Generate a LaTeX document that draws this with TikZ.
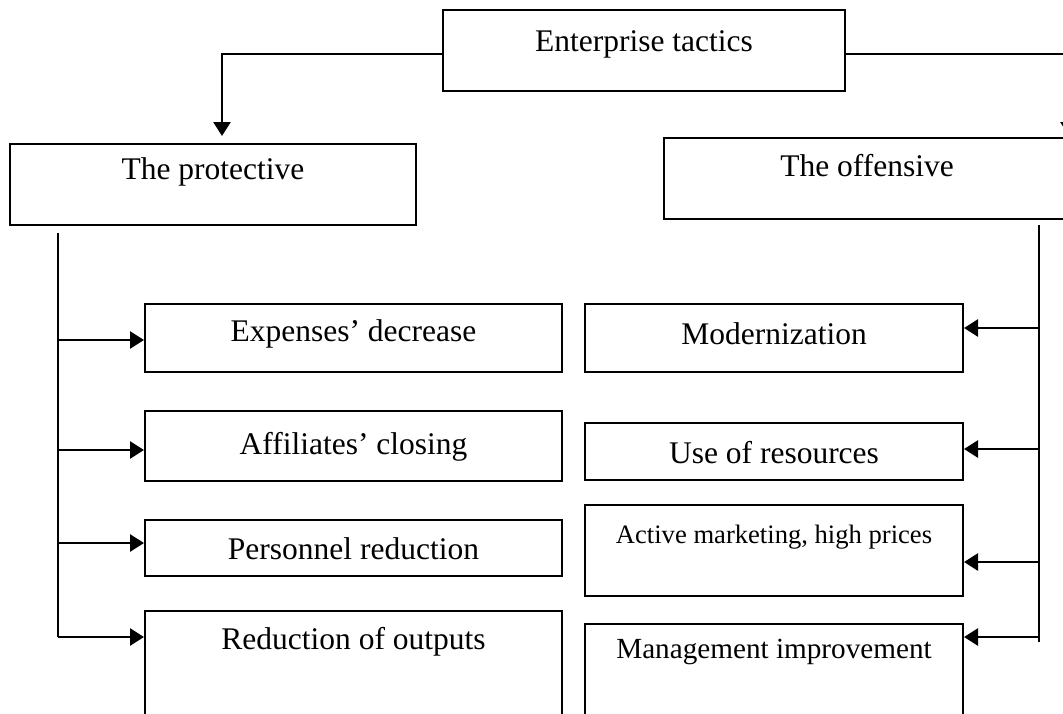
\documentclass[tikz,border=0pt]{standalone}
\usepackage{fontspec}
\setmainfont{Liberation Serif}
\usetikzlibrary{arrows.meta}

\begin{document}
\begin{tikzpicture}[
    x=0.5pt, y=-0.5pt,
    >={Triangle[length=7pt, width=8.5pt]},
    font=\fontsize{15.75}{18}\selectfont,
    block/.style n args={3}{draw, line width=1pt, anchor=north west, inner sep=0pt, minimum width=#1, text height=#2, text depth=#3},
    link/.style = {line width=1.35pt},
    arrow/.style = {->, line width=1.35pt}
]
\useasboundingbox (0,0) rectangle (1063,713);
\clip (0,0) rectangle (1063,713);

% =========================================================
% TOP LEVEL
% =========================================================
\node[block={201pt}{20.5pt}{20pt}] (tactics) at (442,9) {Enterprise tactics};

\node[block={203pt}{17.5pt}{23pt}] (protective) at (9,143) {The protective};
\node[block={203pt}{19pt}{21.5pt}] (offensive) at (663,137) {The offensive};

% =========================================================
% PROTECTIVE MEASURES (left column)
% =========================================================
\node[block={208.5pt}{18.5pt}{15.5pt}] (expenses) at (144,303) {Expenses’ decrease};
\node[block={208.5pt}{21.5pt}{13.5pt}] (affiliates) at (144,410) {Affiliates’ closing};
\node[block={208.5pt}{19.5pt}{8.5pt}] (personnel) at (144,519) {Personnel reduction};
\node[block={208.5pt}{19pt}{56pt}] (outputs) at (144,610) {Reduction of outputs};

% =========================================================
% OFFENSIVE MEASURES (right column)
% =========================================================
\node[block={189pt}{20pt}{14pt}] (modern) at (584,303) {Modernization};
\node[block={189pt}{20pt}{8.5pt}] (resources) at (584,422) {Use of resources};
\node[block={189pt}{19pt}{26.5pt}, font=\fontsize{13.3}{16}\selectfont] (marketing) at (584,504) {Active marketing, high prices};
\node[block={189pt}{17pt}{51.5pt}, font=\fontsize{14.6}{17}\selectfont] (management) at (584,623) {Management improvement};

% =========================================================
% WIRING: TOP LEVEL
% =========================================================
\coordinate (pbend) at (222,54);
\coordinate (obend) at (1069,54);
\draw[arrow] (tactics.west |- pbend) -- (pbend) -- ([yshift=3.5pt]protective.north -| pbend);
\draw[arrow] (tactics.east |- obend) -- (obend) -- ([yshift=0.5pt]offensive.north -| obend);

% =========================================================
% WIRING: LEFT TRUNK
% =========================================================
\coordinate (ltop) at (58,233);
\coordinate (lexp) at (58,340);
\coordinate (laff) at (58,450);
\coordinate (lper) at (58,543);
\coordinate (lout) at (58,637);

\draw[link] (ltop) -- (lout);
\draw[arrow] (lexp) -- (lexp -| expenses.west);
\draw[arrow] (laff) -- (laff -| affiliates.west);
\draw[arrow] (lper) -- (lper -| personnel.west);
\draw[arrow] (lout) -- (lout -| outputs.west);

% =========================================================
% WIRING: RIGHT TRUNK
% =========================================================
\coordinate (rtop) at (1039,225);
\coordinate (rmod) at (1039,328);
\coordinate (rres) at (1039,449);
\coordinate (rmar) at (1039,562);
\coordinate (rman) at (1039,637);
\coordinate (rbot) at (1039,642);

\draw[link] (rtop) -- (rbot);
\draw[arrow] (rmod) -- (rmod -| modern.east);
\draw[arrow] (rres) -- (rres -| resources.east);
\draw[arrow] (rmar) -- (rmar -| marketing.east);
\draw[arrow] (rman) -- (rman -| management.east);

\end{tikzpicture}
\end{document}
